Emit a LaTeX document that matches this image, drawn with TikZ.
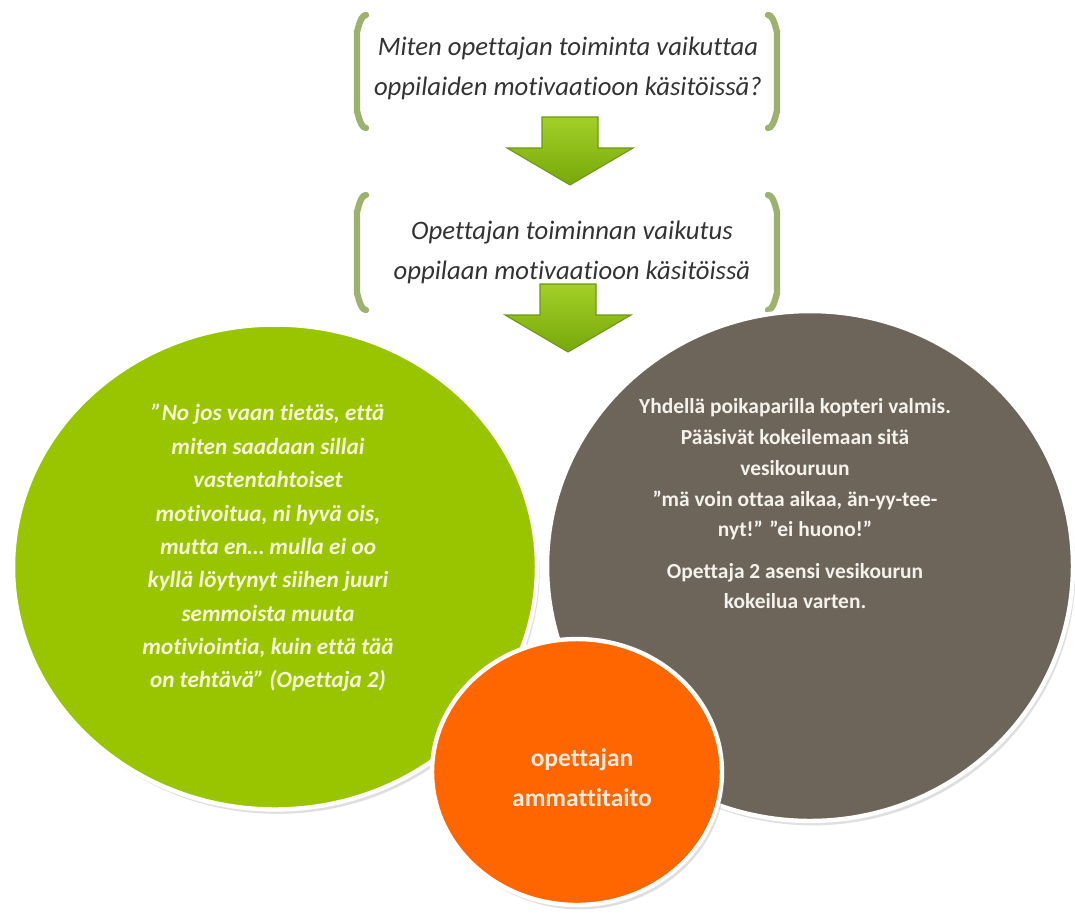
\documentclass[tikz,border=0pt]{standalone}
\usepackage{fontspec}
\setmainfont{Carlito}[Ligatures=NoCommon]
\usepackage{tikz}
\usetikzlibrary{shadows,shapes.geometric}
\definecolor{limegreen}{RGB}{153,196,0}
\definecolor{taupe}{RGB}{109,101,89}
\definecolor{tangerine}{RGB}{255,102,0}
\definecolor{bracketgreen}{RGB}{157,178,110}
\definecolor{arrowlight}{RGB}{163,208,40}
\definecolor{arrowdark}{RGB}{118,168,10}
\definecolor{arrowedge}{RGB}{110,150,25}

\tikzset{
  question/.style={font=\fontsize{15.2}{22.8}\selectfont\itshape,text=black!80,align=center},
  bubble/.style={ellipse,draw=white,line width=2.5pt,inner sep=0pt,
    drop shadow={opacity=0.25,shadow xshift=1.5pt,shadow yshift=-2.5pt}},
  bracket/.style={bracketgreen,line width=3.6pt,line cap=round},
  blockarrow/.style={top color=arrowlight,bottom color=arrowdark,draw=arrowedge,line width=0.6pt}
}

\begin{document}
\begin{tikzpicture}[x=0.02cm,y=-0.02cm]
        \useasboundingbox (0,0) rectangle (1075,917);
        % question and result
        \node[question] (q1) at (568,68) {Miten opettajan toiminta vaikuttaa\\oppilaiden motivaatioon käsitöissä?};
        \node[question] (q2) at (572,252) {Opettajan toiminnan vaikutus\\oppilaan motivaatioon käsitöissä};
        % brackets round them
        \draw[bracket] (366,15) to[out=180,in=-90] (357,30) -- (357,113) to[out=90,in=180] (366,128);
        \draw[bracket] (768,15) to[out=0,in=-90] (777,30) -- (777,113) to[out=90,in=0] (768,128);
        \draw[bracket] (366,195) to[out=180,in=-90] (357,210) -- (357,295) to[out=90,in=180] (366,310);
        \draw[bracket] (768,195) to[out=0,in=-90] (777,210) -- (777,295) to[out=90,in=0] (768,310);
        % down arrows
        \coordinate (tip1) at (570,185);
        \coordinate (tip2) at (568,352);
        \foreach \t in {tip1,tip2}
          \path[blockarrow] (\t) -- ++(-63,-37) -- ++(35,0) -- ++(0,-31) -- ++(56,0)
            -- ++(0,31) -- ++(35,0) -- cycle;
        % three bubbles
        \node[bubble,fill=limegreen,minimum width=10.48cm,minimum height=9.7cm] (quote) at (275,567) {};
        \node[bubble,fill=taupe,minimum width=10.52cm,minimum height=10.2cm] (case) at (810,566) {};
        \node[bubble,fill=tangerine,minimum width=5.8cm,minimum height=5.32cm] (skill) at (577,772) {};
        % texts in the bubbles
        \node[font=\fontsize{13.2}{19}\selectfont\bfseries\itshape,text={rgb,255:red,246;green,248;blue,214},align=center] (quotetext) at (268,548)
          {”No jos vaan tietäs, että\\miten saadaan sillai\\vastentahtoiset\\motivoitua, ni hyvä ois,\\mutta en… mulla ei oo\\kyllä löytynyt siihen juuri\\semmoista muuta\\motiviointia, kuin että tää\\on tehtävä” (Opettaja 2)};
        \node[font=\fontsize{12.2}{17.5}\selectfont\bfseries,text={rgb,255:red,244;green,242;blue,236},align=center] (casetext) at (795,504)
          {Yhdellä poikaparilla kopteri valmis.\\Pääsivät kokeilemaan sitä\\vesikouruun\\”mä voin ottaa aikaa, än-yy-tee-\\nyt!” ”ei huono!”\\[6pt]Opettaja 2 asensi vesikourun\\kokeilua varten.};
        \node[font=\fontsize{14.5}{22.8}\selectfont\bfseries,text={rgb,255:red,253;green,233;blue,217},align=center] (skilltext) at (582,778)
          {opettajan\\ammattitaito};
      \end{tikzpicture}
\end{document}
